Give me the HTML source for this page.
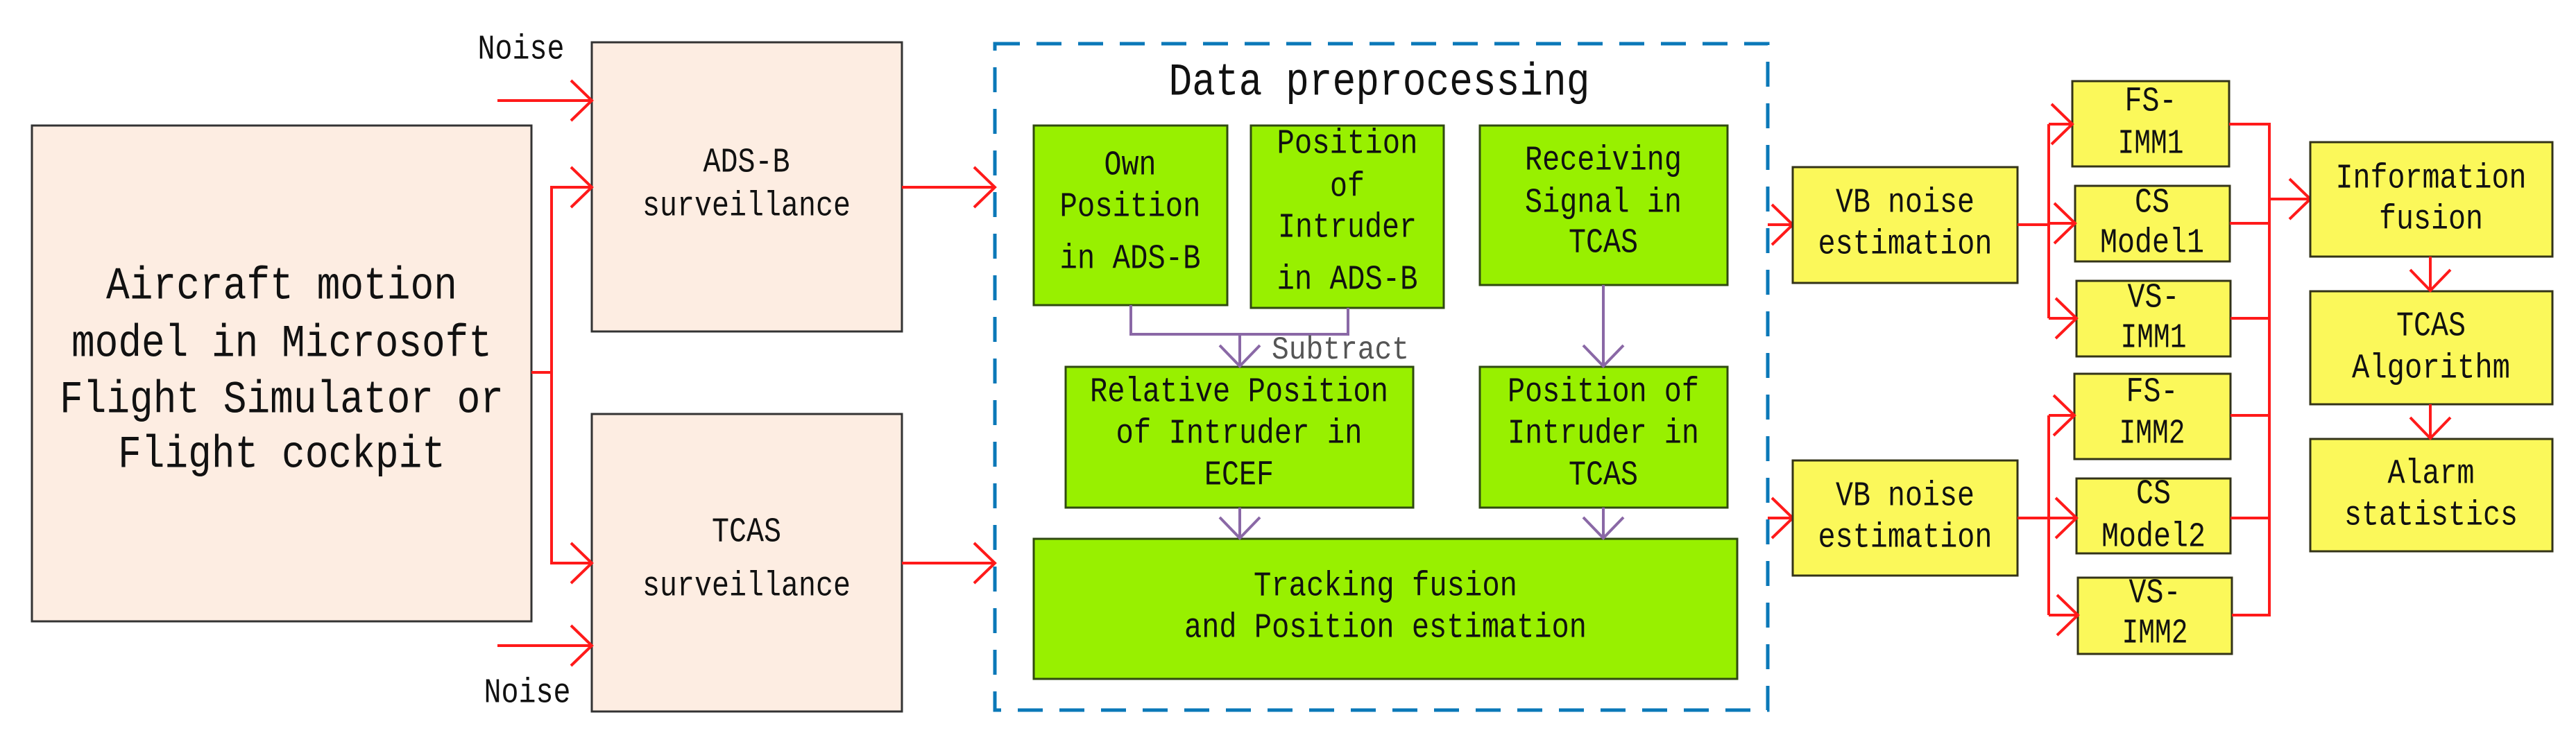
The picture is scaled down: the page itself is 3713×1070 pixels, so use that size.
<!DOCTYPE html>
<html><head><meta charset="utf-8"><style>html,body{margin:0;padding:0;background:#fff}svg{display:block}</style></head><body>
<svg width="3713" height="1070" viewBox="0 0 3713 1070" xmlns="http://www.w3.org/2000/svg">
<defs>
<marker id="ar" markerUnits="userSpaceOnUse" markerWidth="80" markerHeight="80" refX="0" refY="0" viewBox="-40 -40 80 80" orient="auto" overflow="visible">
<path d="M-30,-29 L0,0 L-30,29" fill="none" stroke="#ff1a1a" stroke-width="4"/></marker>
<marker id="ap" markerUnits="userSpaceOnUse" markerWidth="80" markerHeight="80" refX="0" refY="0" viewBox="-40 -40 80 80" orient="auto" overflow="visible">
<path d="M-30,-29 L0,0 L-30,29" fill="none" stroke="#8a68a6" stroke-width="4"/></marker>
</defs>
<style>
text{font-family:"Liberation Mono","DejaVu Sans Mono",monospace;fill:#111;text-anchor:middle;dominant-baseline:central}
.pe{fill:#fdede2;stroke:#333;stroke-width:3}
.gr{fill:#98f000;stroke:#2f4a10;stroke-width:3}
.ye{fill:#fbf85a;stroke:#333318;stroke-width:3}
.r{stroke:#ff1a1a;stroke-width:4;fill:none}
.p{stroke:#8a68a6;stroke-width:4;fill:none}
</style>

<!-- left boxes -->
<rect class="pe" x="46" y="181" width="720" height="715"/>
<text x="406" y="413" font-size="66" textLength="506" lengthAdjust="spacingAndGlyphs">Aircraft motion</text>
<text x="406" y="496" font-size="66" textLength="606" lengthAdjust="spacingAndGlyphs">model in Microsoft</text>
<text x="406" y="577" font-size="66" textLength="640" lengthAdjust="spacingAndGlyphs">Flight Simulator or</text>
<text x="406" y="656" font-size="66" textLength="472" lengthAdjust="spacingAndGlyphs">Flight cockpit</text>

<rect class="pe" x="853" y="61" width="447" height="417"/>
<text x="1076" y="235" font-size="50" textLength="125" lengthAdjust="spacingAndGlyphs">ADS-B</text>
<text x="1076" y="298" font-size="50" textLength="300" lengthAdjust="spacingAndGlyphs">surveillance</text>
<rect class="pe" x="853" y="597" width="447" height="429"/>
<text x="1076" y="768" font-size="50" textLength="100" lengthAdjust="spacingAndGlyphs">TCAS</text>
<text x="1076" y="846" font-size="50" textLength="300" lengthAdjust="spacingAndGlyphs">surveillance</text>

<text x="751" y="72" font-size="50" textLength="125" lengthAdjust="spacingAndGlyphs">Noise</text>
<text x="760" y="1000" font-size="50" textLength="125" lengthAdjust="spacingAndGlyphs">Noise</text>

<line class="r" x1="717" y1="145" x2="853" y2="145" marker-end="url(#ar)"/>
<line class="r" x1="717" y1="931" x2="853" y2="931" marker-end="url(#ar)"/>
<polyline class="r" points="766,537 795,537"/>
<polyline class="r" points="853,270 795,270 795,812 853,812"/>
<line class="r" x1="795" y1="270" x2="853" y2="270" marker-end="url(#ar)"/>
<line class="r" x1="795" y1="812" x2="853" y2="812" marker-end="url(#ar)"/>
<line class="r" x1="1300" y1="270" x2="1434" y2="270" marker-end="url(#ar)"/>
<line class="r" x1="1300" y1="812" x2="1434" y2="812" marker-end="url(#ar)"/>

<!-- dashed box -->
<rect x="1434" y="63" width="1114" height="961" fill="none" stroke="#0a78b8" stroke-width="5" stroke-dasharray="36,24"/>
<text x="1988" y="119" font-size="66" textLength="607" lengthAdjust="spacingAndGlyphs">Data preprocessing</text>

<rect class="gr" x="1490" y="181" width="279" height="259"/>
<text x="1629" y="239" font-size="50" textLength="75" lengthAdjust="spacingAndGlyphs">Own</text>
<text x="1629" y="299" font-size="50" textLength="203" lengthAdjust="spacingAndGlyphs">Position</text>
<text x="1629" y="374" font-size="50" textLength="203" lengthAdjust="spacingAndGlyphs">in ADS-B</text>

<rect class="gr" x="1803" y="181" width="278" height="263"/>
<text x="1942" y="208" font-size="50" textLength="203" lengthAdjust="spacingAndGlyphs">Position</text>
<text x="1942" y="270" font-size="50" textLength="50" lengthAdjust="spacingAndGlyphs">of</text>
<text x="1942" y="329" font-size="50" textLength="200" lengthAdjust="spacingAndGlyphs">Intruder</text>
<text x="1942" y="404" font-size="50" textLength="203" lengthAdjust="spacingAndGlyphs">in ADS-B</text>

<rect class="gr" x="2133" y="181" width="357" height="230"/>
<text x="2311" y="232" font-size="50" textLength="226" lengthAdjust="spacingAndGlyphs">Receiving</text>
<text x="2311" y="293" font-size="50" textLength="226" lengthAdjust="spacingAndGlyphs">Signal in</text>
<text x="2311" y="351" font-size="50" textLength="100" lengthAdjust="spacingAndGlyphs">TCAS</text>

<rect class="gr" x="1536" y="529" width="501" height="203"/>
<text x="1786" y="566" font-size="50" textLength="430" lengthAdjust="spacingAndGlyphs">Relative Position</text>
<text x="1786" y="626" font-size="50" textLength="355" lengthAdjust="spacingAndGlyphs">of Intruder in</text>
<text x="1786" y="686" font-size="50" textLength="100" lengthAdjust="spacingAndGlyphs">ECEF</text>

<rect class="gr" x="2133" y="529" width="357" height="203"/>
<text x="2311" y="566" font-size="50" textLength="276" lengthAdjust="spacingAndGlyphs">Position of</text>
<text x="2311" y="626" font-size="50" textLength="276" lengthAdjust="spacingAndGlyphs">Intruder in</text>
<text x="2311" y="686" font-size="50" textLength="100" lengthAdjust="spacingAndGlyphs">TCAS</text>

<rect class="gr" x="1490" y="777" width="1014" height="202"/>
<text x="1997" y="846" font-size="50" textLength="380" lengthAdjust="spacingAndGlyphs">Tracking fusion</text>
<text x="1997" y="906" font-size="50" textLength="580" lengthAdjust="spacingAndGlyphs">and Position estimation</text>

<polyline class="p" points="1630,440 1630,482 1943,482 1943,444"/>
<line class="p" x1="1787" y1="482" x2="1787" y2="528" marker-end="url(#ap)"/>
<text x="1932" y="505" font-size="46" textLength="198" lengthAdjust="spacingAndGlyphs" style="fill:#555">Subtract</text>
<line class="p" x1="2311" y1="411" x2="2311" y2="528" marker-end="url(#ap)"/>
<line class="p" x1="1787" y1="732" x2="1787" y2="776" marker-end="url(#ap)"/>
<line class="p" x1="2311" y1="732" x2="2311" y2="776" marker-end="url(#ap)"/>

<!-- right part -->
<line class="r" x1="2548" y1="324" x2="2584" y2="324" marker-end="url(#ar)"/>
<line class="r" x1="2548" y1="747" x2="2584" y2="747" marker-end="url(#ar)"/>
<rect class="ye" x="2584" y="241" width="324" height="167"/>
<text x="2746" y="293" font-size="50" textLength="200" lengthAdjust="spacingAndGlyphs">VB noise</text>
<text x="2746" y="353" font-size="50" textLength="251" lengthAdjust="spacingAndGlyphs">estimation</text>
<rect class="ye" x="2584" y="664" width="324" height="166"/>
<text x="2746" y="716" font-size="50" textLength="200" lengthAdjust="spacingAndGlyphs">VB noise</text>
<text x="2746" y="776" font-size="50" textLength="251" lengthAdjust="spacingAndGlyphs">estimation</text>

<rect class="ye" x="2987" y="117" width="226" height="123"/>
<text x="3100" y="147" font-size="50" textLength="75" lengthAdjust="spacingAndGlyphs">FS-</text>
<text x="3100" y="208" font-size="50" textLength="95" lengthAdjust="spacingAndGlyphs">IMM1</text>
<rect class="ye" x="2991" y="268" width="223" height="109"/>
<text x="3102" y="293" font-size="50" textLength="50" lengthAdjust="spacingAndGlyphs">CS</text>
<text x="3102" y="351" font-size="50" textLength="150" lengthAdjust="spacingAndGlyphs">Model1</text>
<rect class="ye" x="2993" y="405" width="222" height="109"/>
<text x="3104" y="430" font-size="50" textLength="75" lengthAdjust="spacingAndGlyphs">VS-</text>
<text x="3104" y="488" font-size="50" textLength="95" lengthAdjust="spacingAndGlyphs">IMM1</text>
<rect class="ye" x="2990" y="539" width="225" height="123"/>
<text x="3102" y="566" font-size="50" textLength="75" lengthAdjust="spacingAndGlyphs">FS-</text>
<text x="3102" y="626" font-size="50" textLength="95" lengthAdjust="spacingAndGlyphs">IMM2</text>
<rect class="ye" x="2993" y="690" width="222" height="108"/>
<text x="3104" y="713" font-size="50" textLength="50" lengthAdjust="spacingAndGlyphs">CS</text>
<text x="3104" y="775" font-size="50" textLength="150" lengthAdjust="spacingAndGlyphs">Model2</text>
<rect class="ye" x="2995" y="833" width="222" height="110"/>
<text x="3106" y="856" font-size="50" textLength="75" lengthAdjust="spacingAndGlyphs">VS-</text>
<text x="3106" y="914" font-size="50" textLength="95" lengthAdjust="spacingAndGlyphs">IMM2</text>

<polyline class="r" points="2908,324 2953,324"/>
<polyline class="r" points="2953,179 2953,459"/>
<line class="r" x1="2953" y1="179" x2="2987" y2="179" marker-end="url(#ar)"/>
<line class="r" x1="2953" y1="322" x2="2991" y2="322" marker-end="url(#ar)"/>
<line class="r" x1="2953" y1="459" x2="2993" y2="459" marker-end="url(#ar)"/>
<polyline class="r" points="2908,747 2953,747"/>
<polyline class="r" points="2953,599 2953,887"/>
<line class="r" x1="2953" y1="599" x2="2990" y2="599" marker-end="url(#ar)"/>
<line class="r" x1="2953" y1="747" x2="2993" y2="747" marker-end="url(#ar)"/>
<line class="r" x1="2953" y1="887" x2="2995" y2="887" marker-end="url(#ar)"/>

<polyline class="r" points="3213,179 3271,179 3271,887 3217,887"/>
<line class="r" x1="3214" y1="322" x2="3271" y2="322"/>
<line class="r" x1="3215" y1="459" x2="3271" y2="459"/>
<line class="r" x1="3215" y1="599" x2="3271" y2="599"/>
<line class="r" x1="3215" y1="747" x2="3271" y2="747"/>
<line class="r" x1="3271" y1="287" x2="3330" y2="287" marker-end="url(#ar)"/>

<rect class="ye" x="3330" y="205" width="349" height="165"/>
<text x="3504" y="258" font-size="50" textLength="275" lengthAdjust="spacingAndGlyphs">Information</text>
<text x="3504" y="317" font-size="50" textLength="150" lengthAdjust="spacingAndGlyphs">fusion</text>
<rect class="ye" x="3330" y="420" width="349" height="163"/>
<text x="3504" y="471" font-size="50" textLength="100" lengthAdjust="spacingAndGlyphs">TCAS</text>
<text x="3504" y="532" font-size="50" textLength="228" lengthAdjust="spacingAndGlyphs">Algorithm</text>
<rect class="ye" x="3330" y="633" width="349" height="162"/>
<text x="3504" y="684" font-size="50" textLength="125" lengthAdjust="spacingAndGlyphs">Alarm</text>
<text x="3504" y="744" font-size="50" textLength="250" lengthAdjust="spacingAndGlyphs">statistics</text>
<line class="r" x1="3503" y1="370" x2="3503" y2="419" marker-end="url(#ar)"/>
<line class="r" x1="3503" y1="583" x2="3503" y2="632" marker-end="url(#ar)"/>
</svg>
</body></html>
